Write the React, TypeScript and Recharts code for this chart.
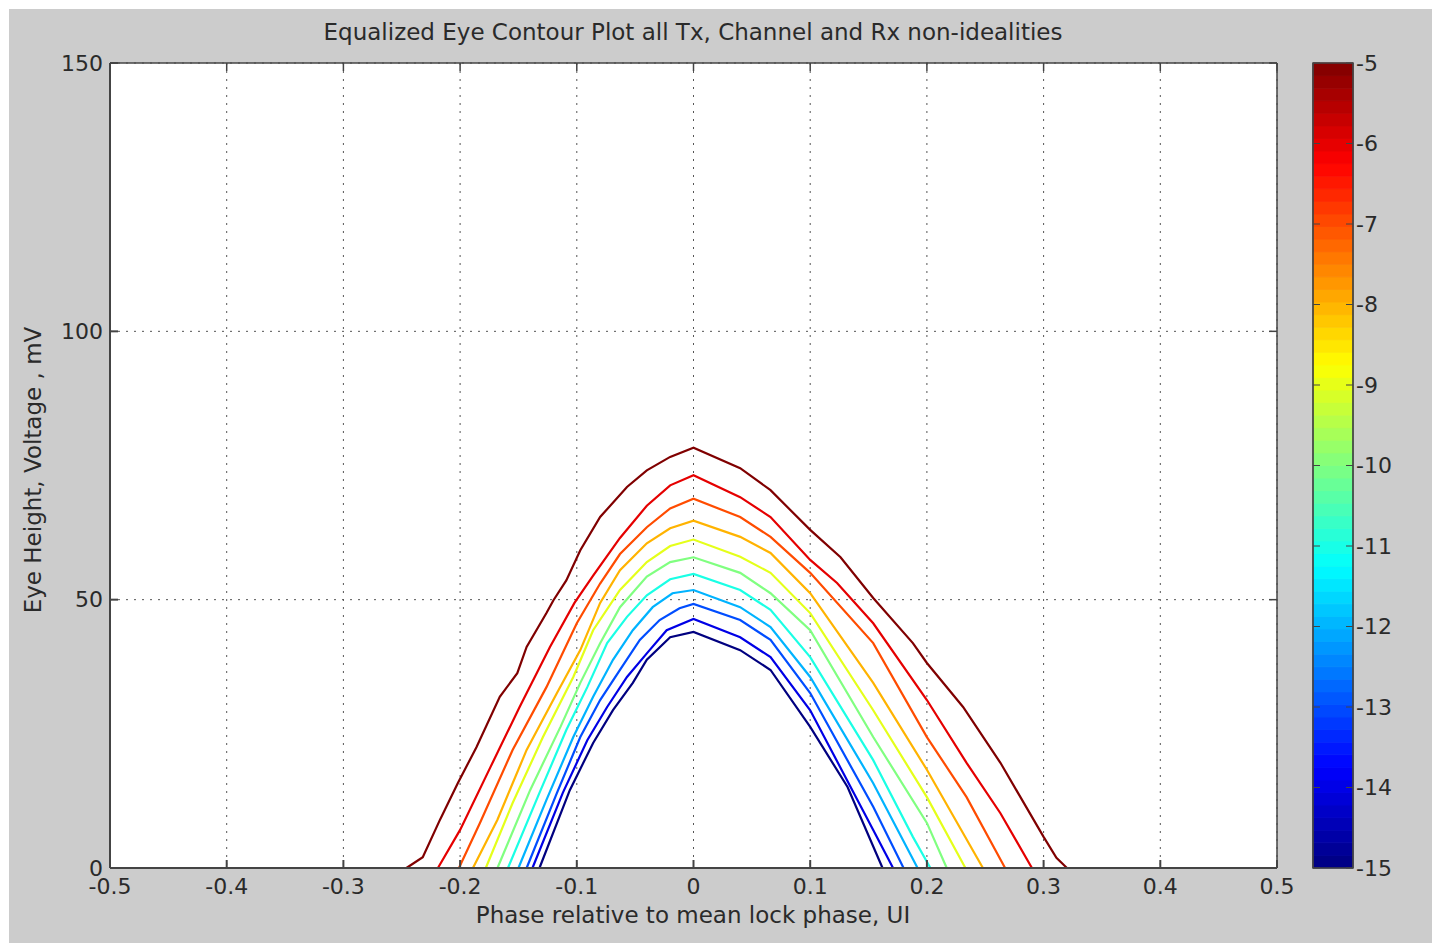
import React from 'react'
import { LineChart, Line, XAxis, YAxis, CartesianGrid, ComposedChart, ReferenceArea } from 'recharts'

// contour levels (log10 BER) and their traced curves: [phase UI, eye height mV]
const levels = [-5, -6, -7, -8, -9, -10, -11, -12, -13, -14, -15]

const contourM5: [number, number][] = [
  [-0.246, 0], [-0.232, 2.0], [-0.217, 9.1], [-0.202, 15.8], [-0.186, 22.5], [-0.166, 31.9], [-0.151, 36.3],
  [-0.143, 41.2], [-0.126, 47.5], [-0.12, 49.9], [-0.109, 53.6], [-0.097, 59.2], [-0.08, 65.4], [-0.057, 71.0],
  [-0.04, 74.1], [-0.02, 76.6], [0, 78.3], [0.04, 74.5], [0.066, 70.4], [0.1, 63.0], [0.126, 57.9], [0.154, 50.3],
  [0.188, 41.9], [0.2, 38.2], [0.231, 30.0], [0.263, 19.6], [0.3, 5.8], [0.311, 1.9], [0.32, 0],
]
const contourM6: [number, number][] = [
  [-0.219, 0], [-0.2, 7.1], [-0.174, 18.8], [-0.149, 30.0], [-0.123, 41.2], [-0.102, 49.4], [-0.086, 54.5],
  [-0.063, 61.5], [-0.04, 67.5], [-0.02, 71.3], [0, 73.2], [0.04, 69.1], [0.066, 65.4], [0.1, 57.4], [0.123, 53.1],
  [0.154, 45.6], [0.2, 31.3], [0.234, 19.6], [0.263, 10.2], [0.29, 0],
]
const contourM7: [number, number][] = [
  [-0.201, 0], [-0.183, 8.4], [-0.155, 22.0], [-0.126, 33.7], [-0.1, 45.6], [-0.08, 53.0], [-0.063, 58.5],
  [-0.04, 63.5], [-0.02, 67.0], [0, 68.8], [0.04, 65.4], [0.066, 61.7], [0.1, 55.0], [0.154, 41.9], [0.2, 24.4],
  [0.234, 13.2], [0.267, 0],
]
const contourM8: [number, number][] = [
  [-0.189, 0], [-0.168, 9.0], [-0.143, 22.0], [-0.117, 32.6], [-0.097, 40.6], [-0.08, 49.4], [-0.063, 55.5],
  [-0.04, 60.5], [-0.02, 63.3], [0, 64.7], [0.04, 61.7], [0.066, 58.7], [0.1, 51.2], [0.154, 34.5], [0.2, 18.3],
  [0.248, 0],
]
const contourM9: [number, number][] = [
  [-0.178, 0], [-0.155, 12.1], [-0.129, 24.4], [-0.103, 35.6], [-0.086, 44.3], [-0.063, 51.8], [-0.04, 57.0],
  [-0.02, 60.0], [0, 61.2], [0.04, 58.0], [0.066, 55.0], [0.1, 47.5], [0.154, 29.4], [0.2, 13.2], [0.233, 0],
]
const contourM10: [number, number][] = [
  [-0.168, 0], [-0.14, 14.5], [-0.114, 26.3], [-0.097, 34.5], [-0.08, 41.9], [-0.063, 48.6], [-0.04, 54.3],
  [-0.02, 57.0], [0, 57.9], [0.04, 55.0], [0.066, 51.2], [0.1, 44.3], [0.154, 24.4], [0.2, 8.4], [0.217, 0],
]
const contourM11: [number, number][] = [
  [-0.159, 0], [-0.132, 14.0], [-0.109, 25.7], [-0.091, 33.7], [-0.074, 41.9], [-0.057, 46.8], [-0.04, 50.8],
  [-0.02, 53.8], [0, 54.8], [0.04, 51.8], [0.066, 48.1], [0.1, 39.3], [0.154, 20.1], [0.188, 5.8], [0.203, 0],
]
const contourM12: [number, number][] = [
  [-0.15, 0], [-0.126, 12.7], [-0.103, 24.4], [-0.086, 31.9], [-0.069, 38.8], [-0.052, 44.3], [-0.035, 48.6],
  [-0.018, 51.2], [0, 51.8], [0.04, 48.6], [0.066, 44.9], [0.1, 35.6], [0.154, 15.8], [0.192, 0],
]
const contourM13: [number, number][] = [
  [-0.143, 0], [-0.117, 14.0], [-0.097, 24.4], [-0.08, 31.3], [-0.063, 36.9], [-0.046, 42.5], [-0.029, 46.2],
  [-0.012, 48.4], [0, 49.2], [0.04, 46.2], [0.066, 42.5], [0.1, 32.6], [0.154, 11.4], [0.18, 0],
]
const contourM14: [number, number][] = [
  [-0.138, 0], [-0.112, 14.0], [-0.091, 23.8], [-0.074, 30.0], [-0.057, 35.6], [-0.04, 40.0], [-0.023, 44.3],
  [0, 46.4], [0.04, 43.0], [0.066, 39.3], [0.1, 29.4], [0.154, 7.1], [0.171, 0],
]
const contourM15: [number, number][] = [
  [-0.132, 0], [-0.106, 14.5], [-0.086, 23.3], [-0.069, 29.4], [-0.052, 34.5], [-0.04, 38.8], [-0.02, 43.0],
  [0, 44.0], [0.04, 40.6], [0.066, 36.9], [0.1, 26.3], [0.132, 15.1], [0.162, 0],
]

const contours = [contourM5, contourM6, contourM7, contourM8, contourM9, contourM10, contourM11, contourM12, contourM13, contourM14, contourM15]

const xTicks = [-0.5, -0.4, -0.3, -0.2, -0.1, 0, 0.1, 0.2, 0.3, 0.4, 0.5]
const yTicks = [0, 50, 100, 150]
const cbTicks = [-5, -6, -7, -8, -9, -10, -11, -12, -13, -14, -15]

// corners of the frame, so the top / right axes get a domain
const frameCorners = [{ x: -0.5, y: 0 }, { x: 0.5, y: 150 }]

// matlab jet colormap
function jet(t: number) {
  const c = (v: number) => Math.round(255 * Math.max(0, Math.min(1, v)))
  const r = c(1.5 - Math.abs(4 * t - 3))
  const g = c(1.5 - Math.abs(4 * t - 2))
  const b = c(1.5 - Math.abs(4 * t - 1))
  return `rgb(${r},${g},${b})`
}

const CB_STEPS = 64
const cbBands = Array.from({ length: CB_STEPS }, (_, i) => ({
  v: i / (CB_STEPS - 1),
  y1: -15 + (10 * i) / CB_STEPS,
  y2: -15 + (10 * (i + 1)) / CB_STEPS,
  color: jet((i + 0.5) / CB_STEPS),
}))

const FONT = '"DejaVu Sans", "Liberation Sans", Arial, sans-serif'
const TXT = '#2a2a2a'
const AXIS = '#444'
const tickStyle = { fontSize: 22, fill: TXT, fontFamily: FONT }
const blank = () => ''

export default function App() {
  return (
    <div style={{ position: 'absolute', left: 0, top: 0, width: 1432, height: 943, background: '#fff', overflow: 'hidden' }}>
      <div style={{ position: 'absolute', left: 9, top: 9, width: 1423, height: 934, background: '#cccccc' }} />

      <div style={{ position: 'absolute', left: 0, width: 1386, top: 19, textAlign: 'center', fontFamily: FONT, fontSize: 23, color: TXT, lineHeight: '26px' }}>
        Equalized Eye Contour Plot all Tx, Channel and Rx non-idealities
      </div>
      <div style={{ position: 'absolute', left: 0, width: 1386, top: 902, textAlign: 'center', fontFamily: FONT, fontSize: 23, color: TXT, lineHeight: '26px' }}>
        Phase relative to mean lock phase, UI
      </div>
      <div
        style={{
          position: 'absolute', left: 33 - 200, top: 470 - 13, width: 400, textAlign: 'center', fontFamily: FONT,
          fontSize: 23, color: TXT, lineHeight: '26px', transform: 'rotate(-90deg)',
        }}
      >
        Eye Height, Voltage , mV
      </div>

      <div style={{ position: 'absolute', left: 0, top: 0 }}>
        <LineChart width={1432} height={943} margin={{ top: 53, right: 145, bottom: 35, left: 50 }}>
          <CartesianGrid fill="#fff" stroke="#555" strokeDasharray="2 6" />
          <XAxis
            dataKey="x" type="number" domain={[-0.5, 0.5]} ticks={xTicks} allowDataOverflow height={40}
            stroke={AXIS} strokeWidth={2} tickSize={-8} tickMargin={18} tick={tickStyle} interval={0}
          />
          <XAxis
            xAxisId="top" orientation="top" dataKey="x" type="number" domain={[-0.5, 0.5]} ticks={xTicks} height={10}
            stroke={AXIS} strokeWidth={1.5} tickSize={-8} tickFormatter={blank} interval={0}
          />
          <YAxis
            type="number" domain={[0, 150]} ticks={yTicks} width={60} stroke={AXIS} strokeWidth={2}
            tickSize={-8} tickMargin={15} tick={tickStyle} interval={0}
          />
          <YAxis
            yAxisId="right" orientation="right" type="number" domain={[0, 150]} ticks={yTicks} width={10}
            stroke={AXIS} strokeWidth={1.5} tickSize={-8} tickFormatter={blank} interval={0}
          />
          <Line
            xAxisId="top" yAxisId="right" data={frameCorners} dataKey="y" stroke="none" dot={false}
            isAnimationActive={false}
          />
          {contours.map((pts, i) => (
            <Line
              key={levels[i]}
              data={pts.map(([x, y]) => ({ x, y }))}
              dataKey="y"
              type="linear"
              stroke={jet((levels[i] + 15) / 10)}
              strokeWidth={2.2}
              dot={false}
              isAnimationActive={false}
            />
          ))}
        </LineChart>
      </div>

      <div style={{ position: 'absolute', left: 1280, top: 0 }}>
        <ComposedChart width={140} height={943} margin={{ top: 63, right: 17, bottom: 65, left: 23 }} data={cbBands}>
          <XAxis xAxisId="cbx" dataKey="v" type="number" domain={[0, 1]} height={10} tick={false} axisLine={false} tickLine={false} />
          <YAxis
            yAxisId="cb" orientation="right" type="number" domain={[-15, -5]} ticks={cbTicks} width={50}
            stroke={AXIS} tickSize={-7} tickMargin={10} tick={tickStyle} interval={0}
          />
          <YAxis
            yAxisId="cbl" orientation="left" type="number" domain={[-15, -5]} ticks={cbTicks} width={10}
            stroke={AXIS} tickSize={-7} tickFormatter={blank} interval={0}
          />
          <Line xAxisId="cbx" yAxisId="cb" dataKey="y1" stroke="none" dot={false} isAnimationActive={false} />
          <Line xAxisId="cbx" yAxisId="cbl" dataKey="y2" stroke="none" dot={false} isAnimationActive={false} />
          {cbBands.map((b, i) => (
            <ReferenceArea
              key={i} xAxisId="cbx" yAxisId="cb" x1={0} x2={1} y1={b.y1} y2={b.y2}
              fill={b.color} fillOpacity={1} stroke={b.color} strokeWidth={0.8}
            />
          ))}
          <ReferenceArea xAxisId="cbx" yAxisId="cb" x1={0} x2={1} y1={-15} y2={-5} fill="none" stroke={AXIS} strokeWidth={1.5} />
        </ComposedChart>
      </div>
    </div>
  )
}
